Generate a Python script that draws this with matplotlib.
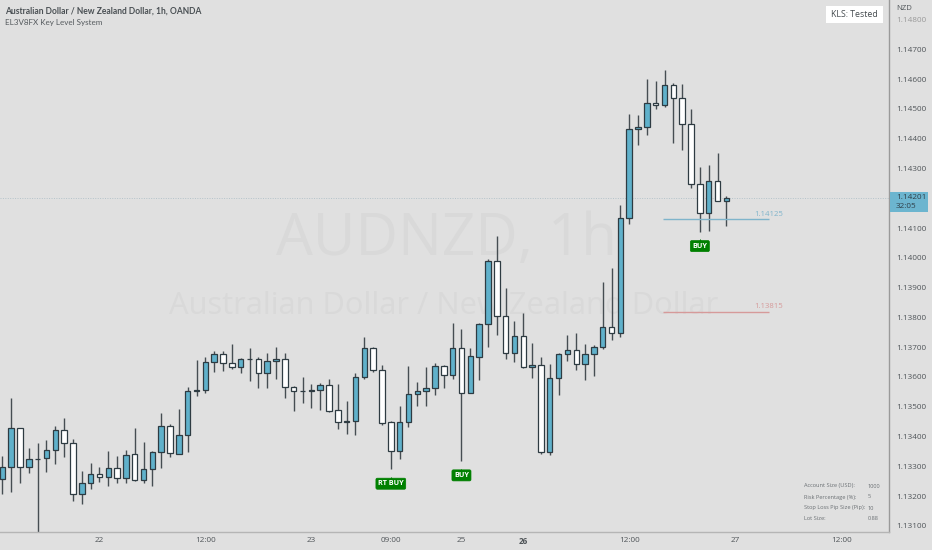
import matplotlib
matplotlib.use("Agg")
import matplotlib.pyplot as plt
from matplotlib.patches import Rectangle
from matplotlib.transforms import offset_copy
import numpy as np

plt.rcParams['font.family'] = ['Open Sans', 'DejaVu Sans']

# prices, in 1/100000
opens = [113256,113296,113427,113296,113323,113327,113354,113421,113377,113206,113243,113275,113263,113295,
         113260,113340,113254,113290,113348,113435,113342,113404,113554,113555,113649,113676,113648,113632,
         113662,113661,113614,113653,113660,113566,113553,113554,113556,113572,113488,113449,113452,113601,
         113696,113623,113449,113352,113448,113543,113553,113564,113637,113605,113696,113546,113668,113777,
         113989,113805,113680,113737,113632,113641,113348,113595,113678,113691,113642,113676,113699,113768,
         113748,114133,114432,114438,114521,114513,114581,114537,114448,114249,114149,114259,114192]
highs = [113335,113528,113430,113360,113377,113388,113436,113461,113390,113284,113310,113298,113353,113334,
         113354,113427,113381,113350,113480,113442,113491,113567,113657,113666,113688,113688,113711,113664,
         113696,113668,113680,113700,113680,113570,113599,113578,113580,113593,113576,113519,113614,113733,
         113699,113639,113451,113502,113637,113582,113632,113646,113640,113780,113762,113697,113780,113996,
         114073,113900,113787,113814,113713,113666,113643,113680,113742,113748,113711,113709,113918,113967,
         114177,114482,114479,114600,114595,114631,114586,114583,114499,114304,114313,114351,114209]
lows = [113208,113213,113245,113277,113060,113282,113307,113330,113184,113172,113224,113246,113233,113243,
        113243,113250,113245,113233,113294,113332,113340,113347,113536,113547,113617,113621,113627,113614,
        113587,113564,113564,113594,113530,113485,113513,113496,113489,113483,113424,113408,113406,113593,
        113615,113439,113290,113323,113433,113503,113503,113539,113562,113593,113318,113545,113590,113699,
        113741,113660,113649,113630,113597,113340,113337,113541,113654,113625,113590,113604,113693,113725,
        113735,114114,114379,114412,114501,114508,114385,114362,114235,114088,114090,114190,114107]
closes = [113296,113427,113296,113323,113325,113354,113421,113377,113206,113243,113275,113263,113295,113259,
          113339,113254,113290,113348,113436,113343,113404,113554,113555,113649,113676,113648,113632,113662,
          113661,113614,113653,113660,113566,113553,113554,113556,113572,113485,113449,113452,113601,113696,
          113623,113447,113352,113448,113543,113554,113564,113637,113605,113696,113546,113670,113777,113989,
          113805,113680,113736,113632,113641,113348,113595,113678,113691,113642,113676,113699,113767,113748,
          114133,114432,114438,114520,114513,114580,114537,114448,114249,114149,114259,114192,114201]

price_ticks = [1.148,1.147,1.146,1.145,1.144,1.143,1.142,1.141,1.14,1.139,1.138,1.137,1.136,1.135,1.134,1.133,1.132,1.131]
time_pos = [11,23,35,44,52,59,71,83,95]
time_labels = ['22','12:00','23','09:00','25','26','12:00','27','12:00']

buy_bars = [44,52,79]
buy_labels = ['RT BUY','BUY','BUY']
level_labels = ['1.14125','1.13815']
level_lines = [1.14129,1.13819]
level_cols = ['#7fb4cb','#d69a9a']
panel_rows = ['Account Size (USD):','Risk Percentage (%):','Stop Loss Pip Size (Pip):','Lot Size:']
panel_vals = ['1000','5','10','0.88']

bg = '#e0e0e0'
dark = '#464d52'
blue = '#60b1cb'
txt = '#505559'

o = np.array(opens)/1e5
h = np.array(highs)/1e5
l = np.array(lows)/1e5
c = np.array(closes)/1e5
x = np.arange(len(o))

fig = plt.figure(figsize=(9.32,5.5),dpi=100,facecolor=bg)
ax = fig.add_axes([0,18.5/550,889/932,531.5/550],facecolor=bg)
ax.set_xlim(-0.26,100.42)
ax.set_ylim(1.13081,1.14866)

# watermark
ax.text(446/932,1-240/550,'AUDNZD, 1h',transform=fig.transFigure,ha='center',va='center',fontsize=42,color='#d9d9d9',zorder=0)
ax.text(443.5/932,1-306/550,'Australian Dollar / New Zealand Dollar',transform=fig.transFigure,ha='center',va='center',fontsize=22.2,color='#d9d9d9',zorder=0)

# last price line
ax.axhline(c[-1],color='#b4c3ca',lw=0.7,ls=(0,(1,1.5)),zorder=1)

# candles
ax.vlines(x,l,h,color=dark,lw=1,zorder=2)
cols = [blue if cl>op else 'white' for op,cl in zip(o,c)]
ax.bar(x,np.abs(c-o),bottom=np.minimum(o,c),width=0.62,color=cols,edgecolor='#2e3b42',linewidth=0.9,zorder=3)

# key levels
for lv,lab,col in zip(level_lines,level_labels,level_cols):
    ax.hlines(lv,74.8,86.8,color=col,lw=1,zorder=2)
    ax.annotate(lab,(86.8,lv),xytext=(0,1.2),textcoords='offset points',ha='center',va='bottom',fontsize=5.6,color=col)

# buy signals
for b,lab in zip(buy_bars,buy_labels):
    ax.annotate(lab,(b,l[b]),xytext=(0,-10.4),textcoords='offset points',ha='center',va='center',
                fontsize=5.2,fontweight='bold',color='white',zorder=5,
                bbox=dict(boxstyle='round,pad=0.28,rounding_size=0.2',fc='#008000',ec='#008000',lw=0.5))
    ax.plot([b],[l[b]],marker='^',ms=2.2,mfc='#008000',mec='none',zorder=4,
            transform=offset_copy(ax.transData,fig=fig,y=-6.2,units='points'))

for s in ['left','top']:
    ax.spines[s].set_visible(False)
ax.spines['right'].set_color('#9a9a9a')
ax.spines['bottom'].set_color('#b5b5b5')
ax.spines['right'].set_linewidth(1)
ax.spines['bottom'].set_linewidth(1)

ax.yaxis.tick_right()
ax.set_yticks(price_ticks)
# the 1.14200 label sits under the last price tag
ax.set_yticklabels(['' if p==1.142 else '%.5f'%p for p in price_ticks],fontsize=5.9,color=txt)
ax.get_yticklabels()[0].set_color('#9a9a9a')
ax.set_xticks(time_pos)
ax.set_xticklabels(time_labels,fontsize=5.9,color=txt)
ax.get_xticklabels()[5].set_fontweight('bold')
ax.tick_params(length=0)
ax.tick_params(axis='y',pad=5)
ax.tick_params(axis='x',pad=4)

# header
fig.text(5/932,1-11/550,'Australian Dollar / New Zealand Dollar, 1h, OANDA',fontsize=6.15,fontweight='bold',family='Lato',color='#4a5054',va='center')
fig.text(5/932,1-22/550,'EL3V8FX Key Level System',fontsize=5.8,family='Lato',color='#555a5e',va='center')
fig.text(896/932,1-8/550,'NZD',fontsize=5.6,color=txt,va='center')

# status box
fig.patches.append(Rectangle((826/932,1-23/550),57/932,17/550,transform=fig.transFigure,fc='white',ec='none',figure=fig,zorder=4))
fig.text(854.5/932,1-14.5/550,'KLS: Tested',fontsize=6.3,color='#444a4e',ha='center',va='center',zorder=5)

# last price tag
ytag = ax.transData.transform((0,c[-1]))[1]/550
fig.patches.append(Rectangle((890/932,ytag-14/550),38/932,20/550,transform=fig.transFigure,fc='#6cb5cf',ec='none',figure=fig,zorder=4))
fig.text(896/932,ytag+0.5/550,'%.5f'%c[-1],fontsize=5.9,color='#2f3f48',va='center',zorder=5)
fig.text(896/932,ytag-8.5/550,'32:05',fontsize=5.9,color='#2f3f48',va='center',zorder=5)

# risk panel
for i,(r,v) in enumerate(zip(panel_rows,panel_vals)):
    ypos = 1-(486+11*i)/550
    fig.text(804/932,ypos,r,fontsize=4.05,color='#6a6f73',va='center')
    fig.text(868/932,ypos,v,fontsize=4.05,color='#6a6f73',va='center')

fig.savefig('out.png',dpi=100,facecolor=bg)
